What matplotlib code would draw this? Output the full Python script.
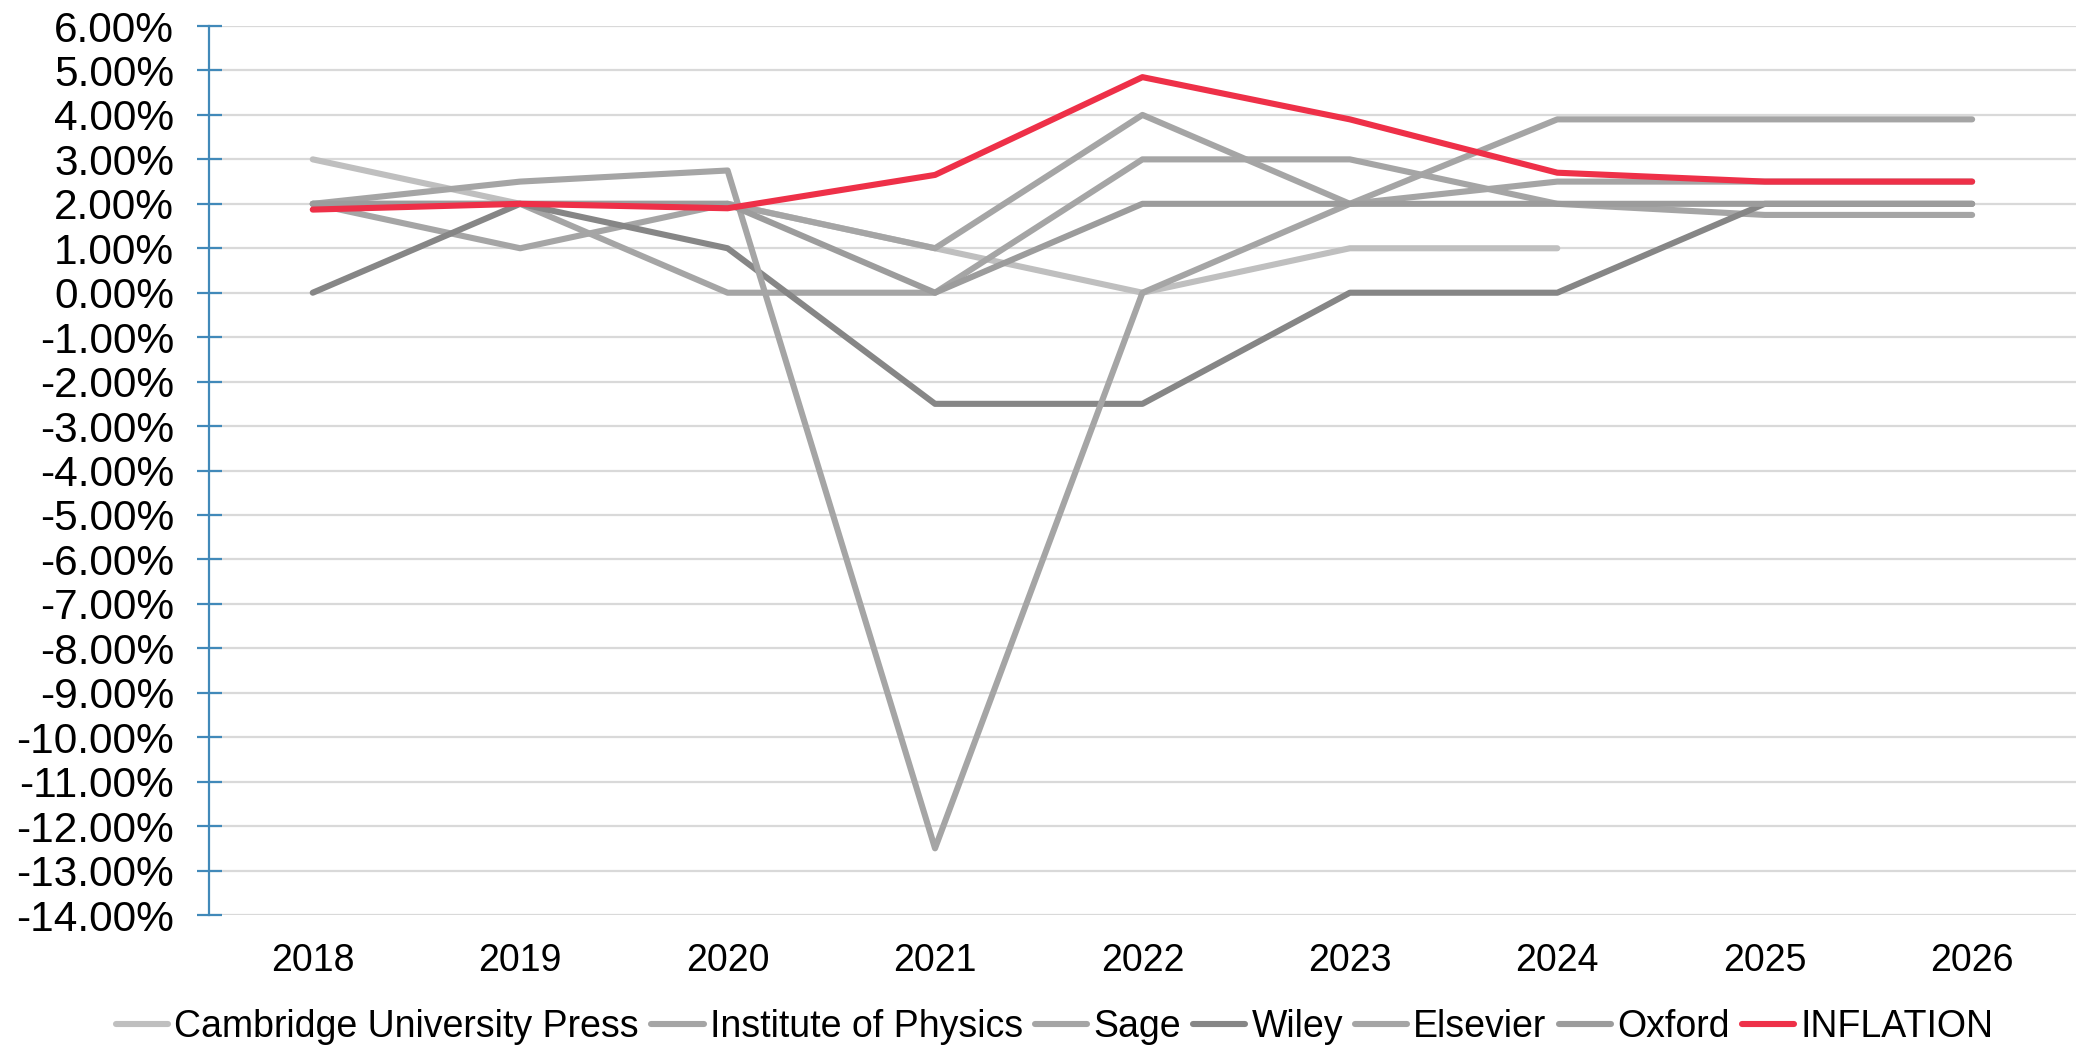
import numpy as np
import matplotlib.pyplot as plt
from matplotlib.ticker import FuncFormatter

# --- 1. Data (annual price increase, %) ---
years = ['2018', '2019', '2020', '2021', '2022', '2023', '2024', '2025', '2026']

cambridge = [3.0, 2.0, 2.0, 1.0, 0.0, 1.0, 1.0, np.nan, np.nan]
iop = [2.0, 1.0, 2.0, 1.0, 4.0, 2.0, 2.5, 2.5, 2.5]
sage = [2.0, 2.0, 0.0, 0.0, 3.0, 3.0, 2.0, 1.75, 1.75]
wiley = [0.0, 2.0, 1.0, -2.5, -2.5, 0.0, 0.0, 2.0, 2.0]
elsevier = [2.0, 2.5, 2.75, -12.5, 0.0, 2.0, 3.9, 3.9, 3.9]
oxford = [2.0, 2.0, 2.0, 0.0, 2.0, 2.0, 2.0, 2.0, 2.0]
inflation = [1.87, 2.0, 1.9, 2.65, 4.85, 3.9, 2.7, 2.5, 2.5]

series_names = ['Cambridge University Press', 'Institute of Physics', 'Sage',
                'Wiley', 'Elsevier', 'Oxford', 'INFLATION']
series_values = [cambridge, iop, sage, wiley, elsevier, oxford, inflation]
series_colors = ['#BFBFBF', '#A5A5A5', '#A5A5A5', '#868686', '#A5A5A5', '#9C9C9C', '#EE3048']

# --- 2. Figure ---
plt.rcParams['font.family'] = ['Liberation Sans', 'DejaVu Sans']

fig = plt.figure(figsize=(20.8, 10.45), dpi=100)
ax = fig.add_axes([0.1005, 0.1244, 0.8975, 0.8507])

x = np.arange(len(years))
for name, vals, col in zip(series_names, series_values, series_colors):
    ax.plot(x, vals, color=col, linewidth=4.4, label=name,
            solid_capstyle='round', solid_joinstyle='round', zorder=3)

# --- 3. Axes styling ---
ax.set_xlim(-0.5, len(years) - 0.5)
ax.set_ylim(-14, 6)
ax.set_yticks(np.arange(-14, 7, 1))
ax.yaxis.set_major_formatter(FuncFormatter(lambda v, p: f'{v:.2f}%'))
ax.set_xticks(x)
ax.set_xticklabels(years)

ax.grid(axis='y', color='#D9D9D9', linewidth=1.6, zorder=0)
ax.set_axisbelow(True)

for side in ['top', 'right', 'bottom']:
    ax.spines[side].set_visible(False)
ax.spines['left'].set_color('#4189B9')
ax.spines['left'].set_linewidth(1.6)

ax.tick_params(axis='y', direction='inout', length=18, width=1.6,
               color='#4189B9', labelsize=30.5, pad=16)
ax.tick_params(axis='x', length=0, labelsize=27, pad=20)

# --- 4. Legend ---
fig.legend(loc='center', bbox_to_anchor=(0.507, 0.0175),
           bbox_transform=fig.transFigure, ncol=7,
           frameon=False, fontsize=27, handlelength=1.4, handletextpad=0.16,
           columnspacing=0.32)

fig.savefig('out.png', dpi=100)
